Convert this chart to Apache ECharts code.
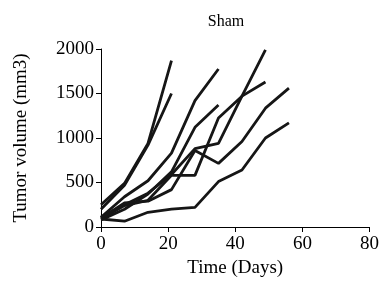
<!DOCTYPE html>
<html>
<head>
<meta charset="utf-8">
<script src="https://cdn.jsdelivr.net/npm/echarts@6/dist/echarts.min.js"></script>
<style>
html,body{margin:0;padding:0;background:#fff}
#Charts{width:382px;height:288px}
</style>
</head>
<body>
<div id="Charts"></div>
<script>
// measurement days
let days = [0, 7, 14, 21, 28, 35, 42, 49, 56]
// tumour volume per mouse (mm3), one list per animal
let mouse1 = [250, 490, 940, 1870]
let mouse2 = [200, 470, 920, 1500]
let mouse3 = [110, 340, 520, 830, 1420, 1775]
let mouse4 = [80, 200, 370, 620, 1120, 1370]
let mouse5 = [110, 250, 380, 590, 880, 940, 1470, 1990]
let mouse6 = [90, 240, 300, 580, 580, 1225, 1470, 1630]
let mouse7 = [100, 270, 290, 420, 860, 715, 960, 1335, 1560]
let mouse8 = [90, 65, 165, 200, 220, 510, 640, 1000, 1170]
let allMice = [mouse1, mouse2, mouse3, mouse4, mouse5, mouse6, mouse7, mouse8]

var chart = echarts.init(document.getElementById("Charts"))

let font = 'Liberation Serif'
let seriesList = []
for (var i = 0; i < allMice.length; i++) {
	let pts = []
	for (var j = 0; j < allMice[i].length; j++) {
		pts.push([days[j], allMice[i][j]])
	}
	seriesList.push({
		type: 'line',
		data: pts,
		symbol: 'none',
		animation: false,
		lineStyle: { color: '#161616', width: 2.8 }
	})
}

option = {
	backgroundColor: '#FFFFFF',
	title: {
		text: 'Sham',
		left: 221,
		top: 9,
		textAlign: 'center',
		textStyle: { fontFamily: font, fontWeight: 'normal', fontSize: 16, color: '#000' }
	},
	grid: { left: 101, right: 12, top: 49, bottom: 61 },
	xAxis: {
		type: 'value',
		min: 0, max: 80, interval: 20,
		name: 'Time (Days)',
		nameLocation: 'middle',
		nameGap: 32,
		nameTextStyle: { fontFamily: font, fontSize: 19, color: '#000' },
		axisLine: { lineStyle: { color: '#000', width: 1 } },
		axisTick: { length: 5, lineStyle: { color: '#000' } },
		axisLabel: { fontFamily: font, fontSize: 19, color: '#000', margin: 8 },
		splitLine: { show: false }
	},
	yAxis: {
		type: 'value',
		min: 0, max: 2000, interval: 500,
		name: 'Tumor volume (mm3)',
		nameLocation: 'middle',
		nameGap: 70,
		nameTextStyle: { fontFamily: font, fontSize: 19, color: '#000' },
		axisLine: { show: true, lineStyle: { color: '#000', width: 1 } },
		axisTick: { show: true, length: 5, lineStyle: { color: '#000' } },
		axisLabel: { fontFamily: font, fontSize: 19, color: '#000', margin: 7, formatter: function (v) { return String(v) } },
		splitLine: { show: false }
	},
	series: seriesList
}
chart.setOption(option)
</script>
</body>
</html>
